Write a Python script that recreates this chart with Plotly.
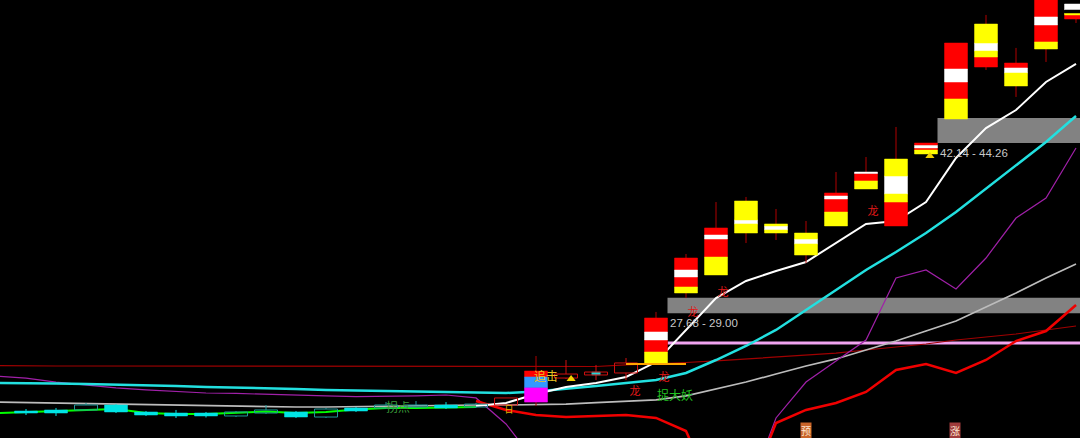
import plotly.graph_objects as go

# ---------------- data (prices) ----------------
line_idx = list(range(-1, 36))  # bar index for indicator lines (-1 = just off the left edge)

ma_white = [None] * 16 + [19.80, 20.06, 20.83, 21.42, 21.76, 22.27, 23.54, 26.26, 28.97, 30.42,
                          31.27, 32.03, 33.64, 35.26, 35.51, 37.12, 40.86, 43.40, 44.93, 47.31, 48.84]
ma_cyan = [21.76, 21.76, 21.72, 21.67, 21.63, 21.59, 21.50, 21.42, 21.38, 21.34, 21.25, 21.17,
           21.12, 21.08, 21.04, 21.00, 20.95, 20.91, 21.04, 21.25, 21.50, 21.76, 22.01, 22.61,
           23.71, 24.90, 26.26, 27.95, 29.66, 31.35, 32.88, 34.49, 36.27, 38.23, 40.26, 42.22, 44.42]
ma_gray = [20.14, 20.10, 20.02, 19.97, 19.93, 19.89, 19.85, 19.80, 19.76, 19.72, 19.72, 19.72,
           19.76, 19.80, 19.85, 19.89, 19.89, 19.89, 19.93, 19.97, 20.10, 20.23, 20.32, 20.66,
           21.25, 21.84, 22.52, 23.20, 23.80, 24.56, 25.32, 26.17, 27.02, 28.21, 29.40, 30.67, 31.86]
ma_purple = [22.35, 22.18, 21.84, 21.59, 21.34, 21.17, 21.04, 20.91, 20.87, 20.78, 20.70, 20.66,
             20.61, 20.61, 20.66, 20.74, 20.49, 18.28, 15.00, 12.00, 12.00, 12.00, 12.00, 12.00,
             12.00, 12.00, 18.79, 21.84, 23.63, 25.41, 30.67, 31.35, 29.74, 32.37, 35.76, 37.46, 41.71]
ma_red = [None] * 16 + [20.23, 19.47, 19.04, 18.87, 18.96, 19.04, 18.79, 17.68, 12.00, 12.00,
                        18.36, 19.47, 20.06, 21.00, 22.86, 23.37, 22.61, 23.71, 25.32, 26.17, 28.38]
ma_darkred = [23.24, 23.20, 23.20, 23.20, 23.20, 23.20, 23.20, 23.20, 23.20, 23.18, 23.14, 23.14,
              23.14, 23.14, 23.14, 23.14, 23.14, 23.14, 23.14, 23.14, 23.16, 23.29, 23.37, 23.50,
              23.63, 23.80, 23.97, 24.13, 24.30, 24.56, 24.81, 25.07, 25.41, 25.66, 25.92, 26.26, 26.60]
ma_green = [19.21, 19.30, 19.38, 19.51, 19.55, 19.21, 19.13, 19.13, 19.21, 19.34, 19.21, 19.30,
            19.51, 19.64, 19.64, 19.68, 19.72] + [None] * 20

# candles, bar index 0..35
candle_top = [19.38, 19.47, 19.89, 19.89, 19.30, 19.21, 19.21, 19.30, 19.47, 19.30, 19.55, 19.64,
              19.89, 19.89, 19.89, 19.97, 20.49, 22.78, 22.52, 22.69, 23.46, 27.28, 32.37, 34.92,
              37.21, 35.26, 34.49, 37.89, 39.67, 40.77, 42.13, 50.62, 52.23, 48.92, 54.70, 53.93]
candle_bottom = [19.21, 19.21, 19.47, 19.30, 19.04, 18.96, 18.96, 18.96, 19.21, 18.87, 18.87, 19.38,
                 19.64, 19.72, 19.64, 19.72, 19.89, 20.14, 22.18, 22.44, 22.61, 23.37, 29.40, 30.93,
                 34.49, 34.49, 32.62, 35.09, 38.23, 35.09, 41.20, 44.17, 48.58, 46.97, 50.11, 52.66]
candle_high = [19.55, 19.64, 20.06, 19.97, 19.38, 19.47, 19.30, 19.38, 19.89, 19.38, 19.64, 19.72,
               20.14, 20.23, 20.14, 20.06, 20.49, 24.05, 23.71, 23.29, 23.88, 27.79, 32.71, 37.12,
               37.55, 36.53, 35.51, 39.67, 40.94, 43.49, 42.13, 50.62, 53.00, 50.20, 54.90, 53.93]
candle_low = [19.04, 18.96, 19.47, 19.21, 18.96, 18.79, 18.83, 18.87, 19.13, 18.79, 18.79, 19.30,
              19.55, 19.64, 19.55, 19.64, 19.89, 19.80, 22.10, 22.01, 22.01, 23.37, 28.97, 30.93,
              33.64, 33.90, 31.94, 35.09, 38.23, 35.09, 41.20, 44.17, 48.33, 46.04, 49.01, 52.32]
# C = falling (solid), T = small rising (hollow), R = rising (hollow), X = cross, S = signal-striped
candle_kind = "CCTCCCCTTCTC" + "TTCT" + "RSRXR" + "S" * 15

# interior band levels of the striped candles (top -> bottom) and band codes
stripe_levels = {
    17: [22.27, 21.34], 21: [26.09, 25.41, 24.39], 22: [31.35, 30.76, 29.91],
    23: [34.32, 33.98, 32.45], 24: [35.60, 35.26], 25: [35.09, 34.75], 26: [33.98, 33.56],
    27: [37.63, 37.38, 36.27], 28: [39.54, 38.91], 29: [39.33, 37.80, 37.12],
    30: [41.92, 41.71, 41.54], 31: [48.41, 47.31, 45.87], 32: [50.62, 49.94, 49.43],
    33: [48.50, 48.07], 34: [52.83, 52.15, 50.71], 35: [53.42, 53.17, 53.00],
}
stripe_codes = {
    17: "RBM", 21: "RWRY", 22: "RWRY", 23: "RWRY", 24: "YWY", 25: "YWY", 26: "YWY",
    27: "RWRY", 28: "WRY", 29: "YWYR", 30: "RWRY", 31: "RWRY", 32: "YWYR", 33: "RWY",
    34: "RWRY", 35: "WKYR",
}

# pressure zones
zone_low = [27.68, 42.14]
zone_high = [29.00, 44.26]
zone_start = [21, 30]
pink_level = 25.15
pink_start = 21
base_bar = 21

# text signals
long_x = [20.3, 21.27, 22.23, 23.23, 28.23]
long_y = [21.00, 22.18, 27.70, 29.40, 36.27]
signal_x = [18.17, 30.13]
signal_y = [22.10, 41.03]
chase_pos = (17.33, 22.18)
turn_pos = (12.4, 19.55)
demon_pos = (21.63, 20.53)
day_pos = (16.1, 19.38)
bottom_tags = [("预", 26.0), ("涨", 30.97)]

# ---------------- drawing ----------------
HW = 0.383
X0, X1 = -0.867, 35.133
Y0, Y1 = 17.09, 54.27
CJK = "Noto Sans CJK SC"

fig = go.Figure()

for lo, hi, s in zip(zone_low, zone_high, zone_start):
    fig.add_shape(type="rect", xref="x", yref="y", x0=s + HW, x1=X1 + 2, y0=lo, y1=hi,
                  fillcolor="#828282", line_width=0, layer="below")
    fig.add_annotation(x=s + HW, y=lo, text=f"{lo:.2f} - {hi:.2f}", xanchor="left", yanchor="top",
                       showarrow=False, xshift=0, yshift=-2,
                       font=dict(family="Liberation Sans, Arial", size=11.5, color="#c8c8c8"))


def add_line(vals, color, width):
    fig.add_trace(go.Scatter(x=line_idx[:len(vals)], y=vals, mode="lines",
                             line=dict(color=color, width=width), connectgaps=False,
                             hoverinfo="skip"))


fig.add_trace(go.Scatter(x=[pink_start + HW, X1 + 2], y=[pink_level, pink_level], mode="lines",
                         line=dict(color="#f0a4f0", width=3), hoverinfo="skip"))
add_line(ma_darkred, "#a00000", 1.2)
add_line(ma_green, "#00ff00", 2)
add_line(ma_gray, "#bcbcbc", 1.7)
add_line(ma_purple, "#a020a8", 1.2)
add_line(ma_cyan, "#22e0e0", 2.5)
add_line(ma_red, "#f00000", 2.5)
add_line(ma_white, "#ffffff", 2)

kind_color = {"C": "#00e4e4", "T": "#1f9a9a", "R": "#d01010", "X": "#d01010", "S": "#b00000"}
band_color = {"R": "#ff0000", "W": "#ffffff", "Y": "#ffff00", "B": "#3399ff", "M": "#ff00ff",
              "K": "#000000"}

# wicks
wicks = {}
for i, k in enumerate(candle_kind):
    c = kind_color[k]
    xs, ys = wicks.setdefault(c, ([], []))
    if candle_high[i] > candle_top[i]:
        xs += [i, i, None]
        ys += [candle_top[i], candle_high[i], None]
    if candle_low[i] < candle_bottom[i]:
        xs += [i, i, None]
        ys += [candle_low[i], candle_bottom[i], None]
for c, (xs, ys) in wicks.items():
    fig.add_trace(go.Scatter(x=xs, y=ys, mode="lines", line=dict(color=c, width=1),
                             hoverinfo="skip"))


def rect(i, lo, hi, hw=HW):
    return [i - hw, i + hw, i + hw, i - hw, i - hw, None], [lo, lo, hi, hi, lo, None]


fills = {}
hollows = {}
for i, k in enumerate(candle_kind):
    if k == "C":
        xs, ys = fills.setdefault(kind_color[k], ([], []))
        rx, ry = rect(i, candle_bottom[i], candle_top[i])
        xs += rx
        ys += ry
    elif k in "TRX":
        xs, ys = hollows.setdefault(kind_color[k], ([], []))
        rx, ry = rect(i, candle_bottom[i], candle_top[i])
        xs += rx
        ys += ry
        if k == "X":
            cx, cy = fills.setdefault("#20d8d8", ([], []))
            rx, ry = rect(i, candle_bottom[i], candle_top[i], hw=0.14)
            cx += rx
            cy += ry
    else:
        levels = [candle_top[i]] + stripe_levels[i] + [candle_bottom[i]]
        for j, code in enumerate(stripe_codes[i]):
            xs, ys = fills.setdefault(band_color[code], ([], []))
            rx, ry = rect(i, levels[j + 1], levels[j])
            xs += rx
            ys += ry

for c, (xs, ys) in fills.items():
    fig.add_trace(go.Scatter(x=xs, y=ys, mode="lines", fill="toself", fillcolor=c,
                             line=dict(color=c, width=0.5), hoverinfo="skip"))
for c, (xs, ys) in hollows.items():
    fig.add_trace(go.Scatter(x=xs, y=ys, mode="lines", line=dict(color=c, width=1),
                             hoverinfo="skip"))

# base line under the launch candle
fig.add_trace(go.Scatter(x=[base_bar - 1, base_bar + 1],
                         y=[candle_bottom[base_bar], candle_bottom[base_bar]], mode="lines",
                         line=dict(color="#ffa500", width=2), hoverinfo="skip"))

# signal triangles
fig.add_trace(go.Scatter(x=signal_x, y=signal_y, mode="markers",
                         marker=dict(symbol="triangle-up", size=8, color="#f2d000"),
                         hoverinfo="skip"))

# text marks
fig.add_trace(go.Scatter(x=long_x, y=long_y, mode="text", text=["龙"] * len(long_x),
                         textfont=dict(family=CJK, size=11, color="#e01818"), hoverinfo="skip"))
for txt, pos, col, size in [("追击", chase_pos, "#e8c020", 12), ("拐点", turn_pos, "#3a9a3a", 12),
                            ("捉大妖", demon_pos, "#22c022", 12), ("日", day_pos, "#e0b000", 9)]:
    fig.add_trace(go.Scatter(x=[pos[0]], y=[pos[1]], mode="text", text=[txt],
                             textfont=dict(family=CJK, size=size, color=col), hoverinfo="skip"))

for (txt, xi), bg in zip(bottom_tags, ["#c8642a", "#a03c3c"]):
    fig.add_annotation(x=xi, y=0, xref="x", yref="paper", text=txt, showarrow=False,
                       yanchor="bottom", yshift=-1, bgcolor=bg, borderpad=0,
                       font=dict(family=CJK, size=10, color="#ffe6d0"))

fig.update_layout(width=1080, height=438, margin=dict(l=0, r=0, t=0, b=0),
                  paper_bgcolor="#000000", plot_bgcolor="#000000", showlegend=False,
                  xaxis=dict(range=[X0, X1], visible=False, fixedrange=True),
                  yaxis=dict(range=[Y0, Y1], visible=False, fixedrange=True))

fig.write_html("out.html", config={"displayModeBar": False},
               post_script="document.body.style.margin='0';"
                           "document.body.style.background='#000';")
